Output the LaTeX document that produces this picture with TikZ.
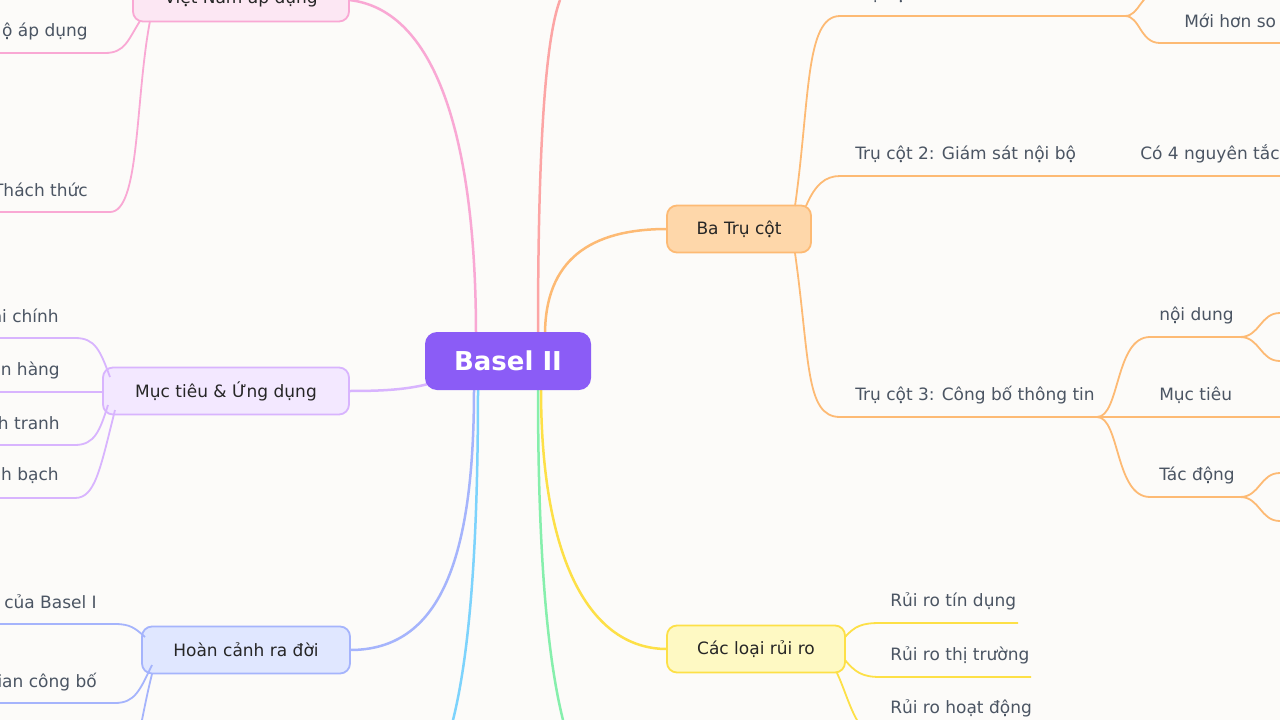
\documentclass[tikz,border=0pt]{standalone}
\usepackage{fontspec}
\setmainfont{DejaVu Sans}
\definecolor{bgc}{HTML}{FCFBF9}
\definecolor{txt}{HTML}{4B5563}
\definecolor{pur}{HTML}{8B5CF6}
\begin{document}
\begin{tikzpicture}[x=1pt, y=-1pt, line width=2.5pt,
    main/.style = {draw, rounded corners=10pt, minimum height=47pt, inner xsep=12pt, font=\fontsize{17}{20}\selectfont, text=black!85},
    leaf/.style = {anchor=west, text=txt, font=\fontsize{17}{20}\selectfont, inner sep=0pt},
    lleaf/.style = {anchor=east, text=txt, font=\fontsize{17}{20}\selectfont, inner sep=0pt}]
    % nen
    \fill[bgc] (0,0) rectangle (1280,720);
    \useasboundingbox (0,0) rectangle (1280,720);
    \begin{scope}
    \clip (0,0) rectangle (1280,720);

    % cac nhanh chinh
    \draw[color={rgb,255:red,249;green,168;blue,212}] (476,335) .. controls (476,150) and (440,10) .. (349,0);
    \draw[color={rgb,255:red,252;green,165;blue,165}] (538,335) .. controls (538,150) and (545,40) .. (560,0);
    \draw[color={rgb,255:red,253;green,186;blue,116}] (545,335) .. controls (545,260) and (590,229) .. (667,229);
    \draw[color={rgb,255:red,216;green,180;blue,254}] (435,382) .. controls (410,390) and (380,391) .. (349,391);
    \draw[color={rgb,255:red,165;green,180;blue,252}] (474,389) .. controls (474,560) and (440,650) .. (350,650);
    \draw[color={rgb,255:red,125;green,211;blue,252}] (478,389) .. controls (478,560) and (468,660) .. (453,720);
    \draw[color={rgb,255:red,134;green,239;blue,172}] (538,389) .. controls (538,560) and (548,660) .. (563,720);
    \draw[color={rgb,255:red,253;green,224;blue,71}] (541,389) .. controls (541,560) and (590,649) .. (667,649);

    \node[fill=pur, text=white, rounded corners=12pt, minimum width=166pt, minimum height=58pt, font=\fontsize{26}{30}\selectfont\bfseries] (basel) at (508,361) {Basel II};

    % Ba tru cot
    \begin{scope}[color={rgb,255:red,253;green,186;blue,116}, line width=1.8pt]
    \node[main, fill={rgb,255:red,254;green,215;blue,170}, minimum width=144pt] (trucot) at (739,229) {Ba Trụ cột};
    \coordinate (t1) at (1125,16);
    \coordinate (t3) at (1097,417);
    \draw (795,206) .. controls (810,100) and (805,16) .. (840,16) -- (t1);
    \draw (t1) .. controls (1140,16) and (1140,-8) .. (1160,-8);
    \draw (t1) .. controls (1140,16) and (1140,43) .. (1160,43) -- (1280,43);
    \draw (806,206) .. controls (815,185) and (825,176) .. (840,176) -- (1280,176);
    \draw (795,253) .. controls (810,360) and (805,417) .. (840,417) -- (t3) -- (1280,417);
    \draw (t3) .. controls (1120,417) and (1115,337) .. (1150,337) -- (1240,337);
    \draw (1240,337) .. controls (1260,337) and (1260,313) .. (1280,313);
    \draw (1240,337) .. controls (1260,337) and (1260,361) .. (1280,361);
    \draw (t3) .. controls (1120,417) and (1115,497) .. (1150,497) -- (1240,497);
    \draw (1240,497) .. controls (1260,497) and (1260,473) .. (1280,473);
    \draw (1240,497) .. controls (1260,497) and (1260,521) .. (1280,521);
    \end{scope}
    \node[leaf] (tc1) at (854,-6) {Trụ cột 1};
    \node[leaf] (moi) at (1183,21) {Mới hơn so};
    \node[leaf] (tc2) at (854,154) {Trụ cột 2: Giám sát nội bộ};
    \node[leaf] (ntac) at (1139,154) {Có 4 nguyên tắc};
    \node[leaf] (tc3) at (854,395) {Trụ cột 3: Công bố thông tin};
    \node[leaf] (nd) at (1158,315) {nội dung};
    \node[leaf] (mt) at (1158,395) {Mục tiêu};
    \node[leaf] (td) at (1158,475) {Tác động};

    % Cac loai rui ro
    \begin{scope}[color={rgb,255:red,253;green,224;blue,71}, line width=1.8pt]
    \node[main, fill={rgb,255:red,254;green,249;blue,195}, minimum width=178pt] (ruiro) at (756,649) {Các loại rủi ro};
    \draw (845,637) .. controls (855,626) and (862,623) .. (880,623) -- (1018,623);
    \draw (845,660) .. controls (855,672) and (862,677) .. (880,677) -- (1031,677);
    \draw (837,673) .. controls (845,690) and (850,710) .. (860,725);
    \end{scope}
    \node[leaf] (rtd) at (889,601) {Rủi ro tín dụng};
    \node[leaf] (rtt) at (889,655) {Rủi ro thị trường};
    \node[leaf] (rhd) at (889,708) {Rủi ro hoạt động};

    % Muc tieu & Ung dung
    \begin{scope}[color={rgb,255:red,216;green,180;blue,254}, line width=1.8pt]
    \node[main, fill={rgb,255:red,243;green,232;blue,255}, minimum width=246pt] (muctieu) at (226,391) {Mục tiêu \& Ứng dụng};
    \draw (110,377) .. controls (100,350) and (95,338) .. (75,338) -- (0,338);
    \draw (103,392) -- (0,392);
    \draw (108,405) .. controls (100,430) and (95,445) .. (75,445) -- (0,445);
    \draw (115,410) .. controls (100,470) and (95,498) .. (75,498) -- (0,498);
    \end{scope}
    \node[lleaf] (m1) at (60,316) {ai chính};
    \node[lleaf] (m2) at (61,370) {an hàng};
    \node[lleaf] (m3) at (61,423) {h tranh};
    \node[lleaf] (m4) at (60,476) {nh bạch};

    % Hoan canh ra doi
    \begin{scope}[color={rgb,255:red,165;green,180;blue,252}, line width=1.8pt]
    \node[main, fill={rgb,255:red,224;green,231;blue,255}, minimum width=208pt] (hoancanh) at (246,650) {Hoàn cảnh ra đời};
    \draw (145,637) .. controls (135,628) and (130,624) .. (115,624) -- (0,624);
    \draw (152,665) .. controls (140,690) and (135,703) .. (115,703) -- (0,703);
    \draw (152,674) .. controls (148,690) and (145,705) .. (142,720);
    \end{scope}
    \node[lleaf] (h1) at (98,601) {ế của Basel I};
    \node[lleaf] (h2) at (98,682) {ian công bố};

    % Viet Nam ap dung
    \begin{scope}[color={rgb,255:red,249;green,168;blue,212}, line width=1.8pt]
    \node[main, fill={rgb,255:red,252;green,231;blue,243}, minimum width=216pt] (vn) at (241,-2) {Việt Nam áp dụng};
    \draw (140,21) .. controls (128,40) and (125,53) .. (105,53) -- (0,53);
    \draw (150,21) .. controls (135,100) and (140,212) .. (110,212) -- (0,212);
    \end{scope}
    \node[lleaf] (v1) at (89,31) {ộ áp dụng};
    \node[lleaf] (v2) at (89,190) {Thách thức};
    \end{scope}
\end{tikzpicture}
\end{document}
